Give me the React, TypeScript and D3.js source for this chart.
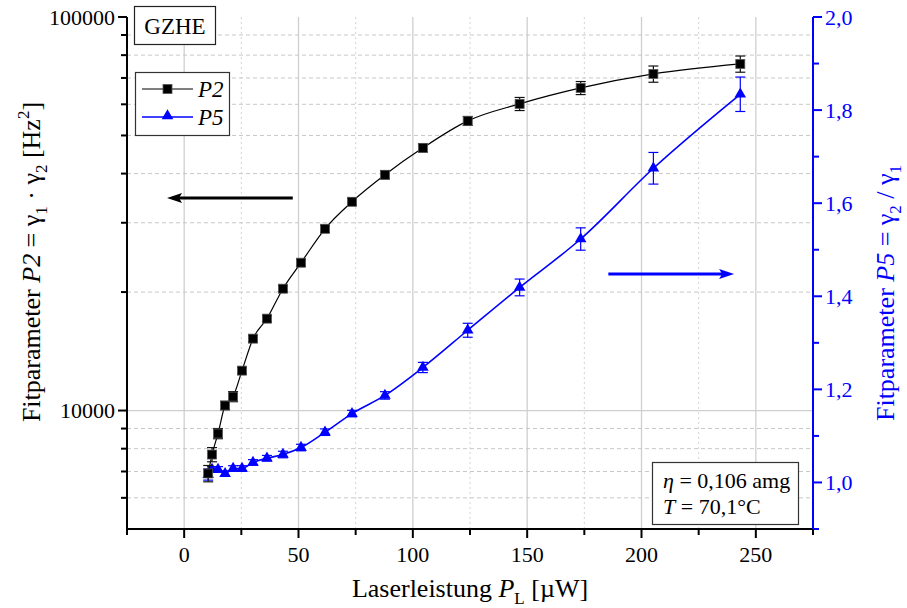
import React, { useEffect, useRef } from 'react'
import * as d3 from 'd3'

const laserPower = [10.5, 12.2, 14.8, 17.9, 21.4, 25.3, 30.1, 36.2, 43.2, 51.1, 61.6, 73.4, 87.8, 104.4, 124.0, 146.7, 173.4, 205.2, 243.2]
const p2Values = [6920, 7730, 8740, 10300, 10850, 12630, 15230, 17120, 20400, 23750, 28960, 33920, 39720, 46500, 54450, 60150, 66030, 71670, 75990]
const p2Errors = [330, 320, 260, 250, 320, 220, 270, 300, 360, 420, 600, 700, 930, 1090, 1430, 2300, 2520, 3400, 3600]
const p5Values = [1.017, 1.028, 1.028, 1.019, 1.030, 1.030, 1.043, 1.052, 1.060, 1.075, 1.108, 1.148, 1.187, 1.247, 1.327, 1.419, 1.523, 1.675, 1.834]
const p5Errors = [0.012, 0.006, 0.006, 0.006, 0.006, 0.006, 0.006, 0.006, 0.007, 0.007, 0.007, 0.007, 0.008, 0.011, 0.015, 0.018, 0.024, 0.034, 0.037]

// Achsen
const xMajorTicks = [0, 50, 100, 150, 200, 250]
const xMinorTicks = [-25, 25, 75, 125, 175, 225, 275]
const leftMajorTicks = [10000, 100000]
const leftMinorTicks = [6000, 7000, 8000, 9000, 20000, 30000, 40000, 50000, 60000, 70000, 80000, 90000]
const rightMajorTicks = [1.0, 1.2, 1.4, 1.6, 1.8, 2.0]
const rightMinorTicks = [0.9, 1.1, 1.3, 1.5, 1.7, 1.9]

const WIDTH = 907
const HEIGHT = 608
const FONT = '"Liberation Serif", "Times New Roman", serif'
const BLUE = '#0000ff'

const App = () => {
  const svgRef = useRef<SVGSVGElement>(null)

  useEffect(() => {
    if (!svgRef.current) return
    const svg = d3.select(svgRef.current)
    svg.selectAll('*').remove()

    const margin = { top: 17, right: 94, bottom: 79, left: 127 }
    const x0 = margin.left
    const x1 = WIDTH - margin.right
    const y0 = HEIGHT - margin.bottom
    const y1 = margin.top

    const x = d3.scaleLinear().domain([-25, 275]).range([x0, x1])
    const yL = d3.scaleLog().domain([5000, 100000]).range([y0, y1])
    const yR = d3.scaleLinear().domain([0.9, 2.0]).range([y0, y1])

    const grid = svg.append('g')

    // vertical grid
    xMajorTicks.forEach(t => {
      grid.append('line')
        .attr('x1', x(t)).attr('x2', x(t)).attr('y1', y1).attr('y2', y0)
        .style('stroke', '#cfcfcf').style('stroke-width', 1.3)
    })
    xMinorTicks.filter(t => t > -25 && t < 275).forEach(t => {
      grid.append('line')
        .attr('x1', x(t)).attr('x2', x(t)).attr('y1', y1).attr('y2', y0)
        .style('stroke', '#d4d4d4').style('stroke-width', 1)
        .style('stroke-dasharray', '2,3')
    })
    // horizontal grid (left axis)
    leftMinorTicks.forEach(t => {
      grid.append('line')
        .attr('x1', x0).attr('x2', x1).attr('y1', yL(t)).attr('y2', yL(t))
        .style('stroke', '#c8c8c8').style('stroke-width', 1)
        .style('stroke-dasharray', '4,3')
    })
    grid.append('line')
      .attr('x1', x0).attr('x2', x1).attr('y1', yL(10000)).attr('y2', yL(10000))
      .style('stroke', '#cfcfcf').style('stroke-width', 1.3)

    // arrows
    const arrow = (xs: number, xe: number, yv: number, color: string) => {
      const dir = Math.sign(xe - xs)
      svg.append('line')
        .attr('x1', xs).attr('x2', xe - dir * 12).attr('y1', yv).attr('y2', yv)
        .style('stroke', color).style('stroke-width', 3)
      svg.append('path')
        .attr('d', `M${xe},${yv} L${xe - dir * 15},${yv - 5} L${xe - dir * 12},${yv} L${xe - dir * 15},${yv + 5} Z`)
        .style('fill', color)
    }
    arrow(x(47.5), x(-7.5), 198, '#000')
    arrow(x(185.5), x(240.5), 274, BLUE)

    // series
    const idx = d3.range(laserPower.length)

    const drawErr = (g: any, xv: number, ylo: number, yhi: number, color: string) => {
      g.append('line').attr('x1', xv).attr('x2', xv).attr('y1', ylo).attr('y2', yhi)
        .style('stroke', color).style('stroke-width', 1.2)
      ;[ylo, yhi].forEach(yy => {
        g.append('line').attr('x1', xv - 5).attr('x2', xv + 5).attr('y1', yy).attr('y2', yy)
          .style('stroke', color).style('stroke-width', 1.2)
      })
    }

    // P5 (blue)
    const gB = svg.append('g')
    gB.append('path')
      .attr('d', d3.line<number>().x(i => x(laserPower[i])).y(i => yR(p5Values[i])).curve(d3.curveMonotoneX)(idx))
      .style('fill', 'none').style('stroke', BLUE).style('stroke-width', 1.6)
    idx.forEach(i => drawErr(gB, x(laserPower[i]), yR(p5Values[i] - p5Errors[i]), yR(p5Values[i] + p5Errors[i]), BLUE))
    idx.forEach(i => {
      gB.append('path')
        .attr('d', d3.symbol().type(d3.symbolTriangle).size(58)())
        .attr('transform', `translate(${x(laserPower[i])},${yR(p5Values[i])})`)
        .style('fill', BLUE)
    })

    // P2 (black)
    const gK = svg.append('g')
    gK.append('path')
      .attr('d', d3.line<number>().x(i => x(laserPower[i])).y(i => yL(p2Values[i])).curve(d3.curveMonotoneX)(idx))
      .style('fill', 'none').style('stroke', '#000').style('stroke-width', 1.2)
    idx.forEach(i => drawErr(gK, x(laserPower[i]), yL(p2Values[i] - p2Errors[i]), yL(p2Values[i] + p2Errors[i]), '#111'))
    idx.forEach(i => {
      gK.append('rect')
        .attr('x', x(laserPower[i]) - 4.5).attr('y', yL(p2Values[i]) - 4.5)
        .attr('width', 9).attr('height', 9)
        .style('fill', '#000').style('stroke', '#555').style('stroke-width', 0.8)
    })

    // axes lines
    const axes = svg.append('g')
    axes.append('line').attr('x1', x0).attr('x2', x0).attr('y1', y1).attr('y2', y0 + 1)
      .style('stroke', '#000').style('stroke-width', 2)
    axes.append('line').attr('x1', x0).attr('x2', x1).attr('y1', y0).attr('y2', y0)
      .style('stroke', '#000').style('stroke-width', 2)
    axes.append('line').attr('x1', x1).attr('x2', x1).attr('y1', y1).attr('y2', y0 + 1)
      .style('stroke', BLUE).style('stroke-width', 2)

    // bottom ticks
    xMajorTicks.forEach(t => {
      axes.append('line').attr('x1', x(t)).attr('x2', x(t)).attr('y1', y0).attr('y2', y0 + 9)
        .style('stroke', '#000').style('stroke-width', 2)
      axes.append('text').attr('x', x(t)).attr('y', y0 + 33)
        .attr('text-anchor', 'middle').style('font-family', FONT).style('font-size', '22px')
        .text(t)
    })
    xMinorTicks.forEach(t => {
      axes.append('line').attr('x1', x(t)).attr('x2', x(t)).attr('y1', y0).attr('y2', y0 + 6)
        .style('stroke', '#000').style('stroke-width', 2)
    })

    // left ticks
    leftMajorTicks.forEach(t => {
      axes.append('line').attr('x1', x0 - 9).attr('x2', x0).attr('y1', yL(t)).attr('y2', yL(t))
        .style('stroke', '#000').style('stroke-width', 2)
      axes.append('text').attr('x', x0 - 12).attr('y', yL(t)).attr('dy', '0.35em')
        .attr('text-anchor', 'end').style('font-family', FONT).style('font-size', '22px')
        .text(String(t))
    })
    leftMinorTicks.forEach(t => {
      axes.append('line').attr('x1', x0 - 6).attr('x2', x0).attr('y1', yL(t)).attr('y2', yL(t))
        .style('stroke', '#000').style('stroke-width', 2)
    })

    // right ticks
    rightMajorTicks.forEach(t => {
      axes.append('line').attr('x1', x1).attr('x2', x1 + 9).attr('y1', yR(t)).attr('y2', yR(t))
        .style('stroke', BLUE).style('stroke-width', 2)
      axes.append('text').attr('x', x1 + 12).attr('y', yR(t)).attr('dy', '0.35em')
        .attr('text-anchor', 'start').style('font-family', FONT).style('font-size', '22px')
        .style('fill', BLUE)
        .text(t.toFixed(1).replace('.', ','))
    })
    rightMinorTicks.forEach(t => {
      axes.append('line').attr('x1', x1).attr('x2', x1 + 6).attr('y1', yR(t)).attr('y2', yR(t))
        .style('stroke', BLUE).style('stroke-width', 2)
    })

    // axis titles
    const bt = svg.append('text').attr('x', (x0 + x1) / 2).attr('y', 597)
      .attr('text-anchor', 'middle').style('font-family', FONT).style('font-size', '26px')
    bt.append('tspan').text('Laserleistung ')
    bt.append('tspan').style('font-style', 'italic').text('P')
    bt.append('tspan').attr('dy', 7).style('font-size', '17px').text('L')
    bt.append('tspan').attr('dy', -7).text(' [µW]')

    const lt = svg.append('text')
      .attr('transform', `translate(40,262) rotate(-90)`)
      .attr('text-anchor', 'middle').style('font-family', FONT).style('font-size', '26px')
    lt.append('tspan').text('Fitparameter ')
    lt.append('tspan').style('font-style', 'italic').text('P2')
    lt.append('tspan').text(' = γ')
    lt.append('tspan').attr('dy', 7).style('font-size', '17px').text('1')
    lt.append('tspan').attr('dy', -7).text(' · γ')
    lt.append('tspan').attr('dy', 7).style('font-size', '17px').text('2')
    lt.append('tspan').attr('dy', -7).text(' [Hz')
    lt.append('tspan').attr('dy', -11).style('font-size', '17px').text('2')
    lt.append('tspan').attr('dy', 11).text(']')

    const rt = svg.append('text')
      .attr('transform', `translate(894,293) rotate(-90)`)
      .attr('text-anchor', 'middle').style('font-family', FONT).style('font-size', '26px')
      .style('fill', BLUE)
    rt.append('tspan').text('Fitparameter ')
    rt.append('tspan').style('font-style', 'italic').text('P5')
    rt.append('tspan').text(' = γ')
    rt.append('tspan').attr('dy', 7).style('font-size', '17px').text('2')
    rt.append('tspan').attr('dy', -7).text(' / γ')
    rt.append('tspan').attr('dy', 7).style('font-size', '17px').text('1')

    // GZHE box
    svg.append('rect').attr('x', 134.5).attr('y', 6.5).attr('width', 81).attr('height', 38)
      .style('fill', '#fff').style('stroke', '#222').style('stroke-width', 1.2)
    svg.append('text').attr('x', 175).attr('y', 34).attr('text-anchor', 'middle')
      .style('font-family', FONT).style('font-size', '23px').text('GZHE')

    // legend
    const lg = svg.append('g')
    lg.append('rect').attr('x', 135.5).attr('y', 72.5).attr('width', 94).attr('height', 63)
      .style('fill', '#fff').style('stroke', '#333').style('stroke-width', 1.2)
    lg.append('line').attr('x1', 142).attr('x2', 193).attr('y1', 89).attr('y2', 89)
      .style('stroke', '#000').style('stroke-width', 1.2)
    lg.append('rect').attr('x', 163).attr('y', 84.5).attr('width', 9).attr('height', 9)
      .style('fill', '#000').style('stroke', '#555').style('stroke-width', 0.8)
    lg.append('text').attr('x', 198).attr('y', 97).style('font-family', FONT)
      .style('font-size', '23px').style('font-style', 'italic').text('P2')
    lg.append('line').attr('x1', 142).attr('x2', 193).attr('y1', 117).attr('y2', 117)
      .style('stroke', BLUE).style('stroke-width', 1.6)
    lg.append('path').attr('d', d3.symbol().type(d3.symbolTriangle).size(58)())
      .attr('transform', 'translate(167.5,116)').style('fill', BLUE)
    lg.append('text').attr('x', 198).attr('y', 125).style('font-family', FONT)
      .style('font-size', '23px').style('font-style', 'italic').text('P5')

    // annotation box
    const an = svg.append('g')
    an.append('rect').attr('x', 652.5).attr('y', 462.5).attr('width', 146).attr('height', 62)
      .style('fill', '#fff').style('stroke', '#333').style('stroke-width', 1.2)
    const a1 = an.append('text').attr('x', 663).attr('y', 488).style('font-family', FONT).style('font-size', '22px')
    a1.append('tspan').style('font-style', 'italic').text('η')
    a1.append('tspan').text(' = 0,106 amg')
    const a2 = an.append('text').attr('x', 663).attr('y', 514).style('font-family', FONT).style('font-size', '22px')
    a2.append('tspan').style('font-style', 'italic').text('T')
    a2.append('tspan').text(' = 70,1°C')
  }, [])

  return (
    <svg
      ref={svgRef}
      width={WIDTH}
      height={HEIGHT}
      style={{ position: 'absolute', left: 0, top: 0, background: '#fff' }}
    />
  )
}

export default App
